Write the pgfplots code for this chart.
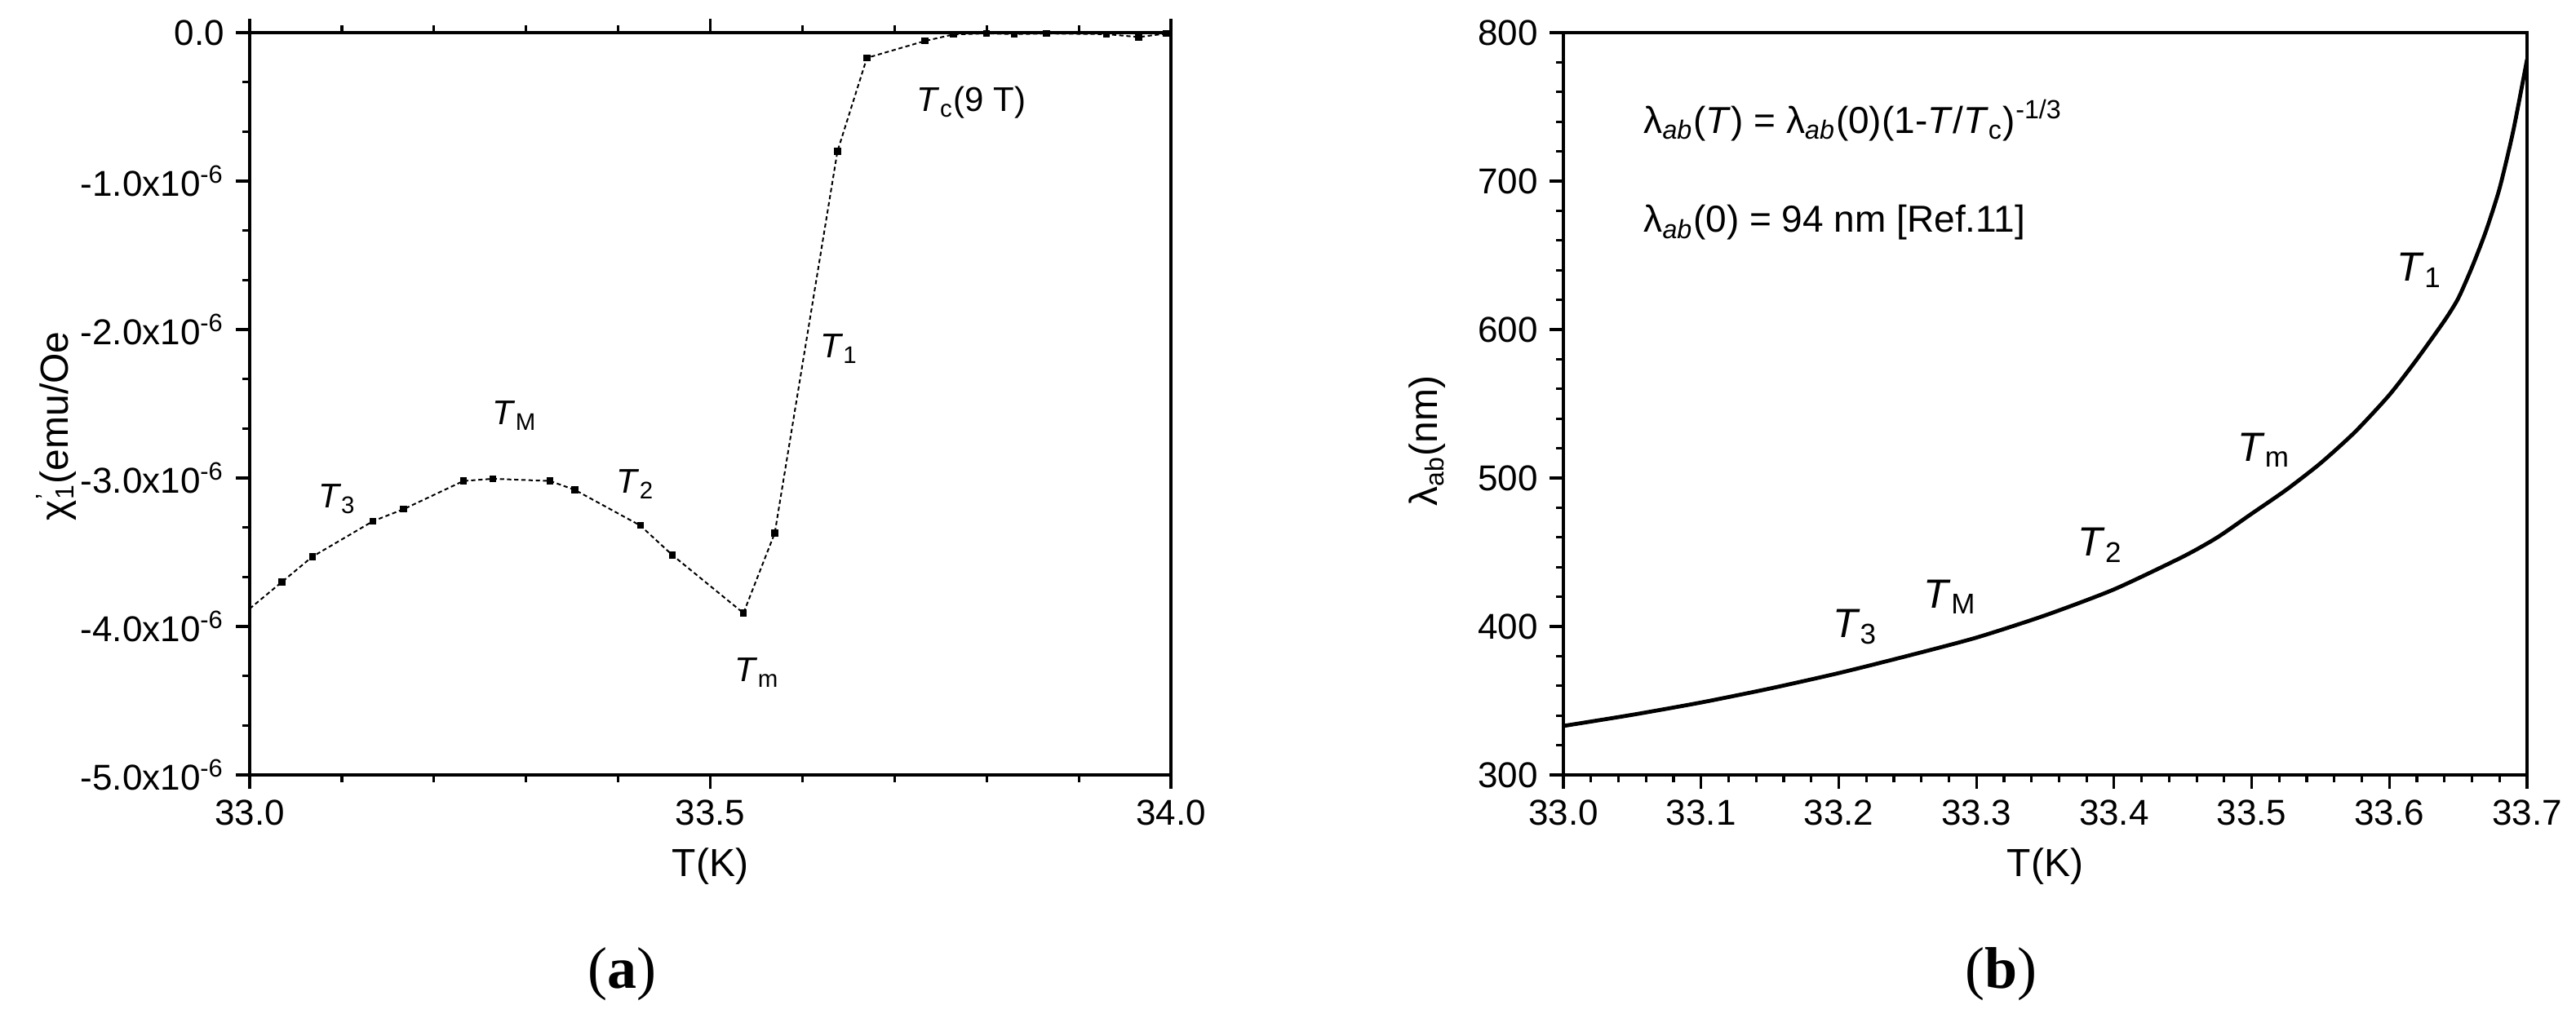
\documentclass[border=0pt]{standalone}
\usepackage{fontspec}
\setmainfont{Liberation Sans}
\newfontfamily\capfont{Liberation Serif}
\usepackage{pgfplots}
\pgfplotsset{compat=1.18}

\pgfplotsset{
  panel/.style={
    scale only axis,
    anchor=south west,
    axis line style={line width=0.9pt},
    tick align=outside,
    major tick length=4.25pt,
    minor tick length=2.25pt,
    every tick/.style={black, line width=0.8pt},
    tick label style={font=\fontsize{11}{13}\selectfont},
    label style={font=\fontsize{12}{14}\selectfont},
    clip=true,
  }
}
\newcommand{\ann}[1]{\textit{T}\textsubscript{#1}}

\begin{document}
\begin{tikzpicture}
\useasboundingbox (0,0) rectangle (789.25pt,311.75pt);

% (a) ac susceptibility
\begin{axis}[panel,
  at={(76.5pt,74.25pt)}, width=282.25pt, height=227.5pt,
  xmin=33, xmax=34, ymin=-5e-6, ymax=0,
  xtick={33,33.5,34}, xticklabels={33.0,33.5,34.0},
  minor x tick num=4,
  xtick pos=both, xticklabel pos=left,
  ytick={-5e-6,-4e-6,-3e-6,-2e-6,-1e-6,0},
  yticklabels={-5.0x10\textsuperscript{-6},-4.0x10\textsuperscript{-6},-3.0x10\textsuperscript{-6},-2.0x10\textsuperscript{-6},-1.0x10\textsuperscript{-6},0.0},
  minor y tick num=2,
  ytick pos=left, scaled y ticks=false,
  xlabel={T(K)},
  ylabel={χ\rlap{\textsuperscript{'}}\textsubscript{1}(emu/Oe},
  xlabel style={at={(axis description cs:0.5,-0.123)}, anchor=center},
  ylabel style={at={(axis description cs:-0.21,0.47)}, anchor=center},
]
\addplot[black, line width=0.5pt, dash pattern=on 1.3pt off 0.9pt,
  mark=square*, mark size=0.8pt, mark phase=2,
  mark options={solid}] table {
T chi
33.000 -3.88e-6
33.035 -3.70e-6
33.068 -3.53e-6
33.134 -3.29e-6
33.167 -3.21e-6
33.232 -3.02e-6
33.264 -3.005e-6
33.326 -3.02e-6
33.353 -3.08e-6
33.424 -3.32e-6
33.459 -3.52e-6
33.536 -3.91e-6
33.570 -3.37e-6
33.638 -0.80e-6
33.670 -0.17e-6
33.733 -0.056e-6
33.764 -0.012e-6
33.800 -0.005e-6
33.830 -0.010e-6
33.865 -0.006e-6
33.930 -0.010e-6
33.965 -0.030e-6
33.995 -0.006e-6
};
\begin{scope}[font=\fontsize{10.5}{12}\selectfont]
\node[anchor=west] at (axis cs:33.712,-0.47e-6) {\ann{c}(9 T)};
\node at (axis cs:33.640,-2.13e-6) {\ann{1}};
\node at (axis cs:33.288,-2.58e-6) {\ann{M}};
\node at (axis cs:33.419,-3.04e-6) {\ann{2}};
\node at (axis cs:33.095,-3.14e-6) {\ann{3}};
\node at (axis cs:33.551,-4.31e-6) {\ann{m}};
\end{scope}
\end{axis}

% (b) penetration depth
\begin{axis}[panel,
  at={(479pt,74.25pt)}, width=295.25pt, height=227.5pt,
  xmin=33, xmax=33.7, ymin=300, ymax=800,
  xtick={33,33.1,33.2,33.3,33.4,33.5,33.6,33.7},
  xticklabels={33.0,33.1,33.2,33.3,33.4,33.5,33.6,33.7},
  minor x tick num=4,
  ytick={300,400,500,600,700,800},
  yticklabels={300,400,500,600,700,800},
  minor y tick num=4,
  xtick pos=left, ytick pos=left,
  xlabel={T(K)},
  ylabel={λ\textsubscript{ab}(nm)},
  xlabel style={at={(axis description cs:0.5,-0.123)}, anchor=center},
  ylabel style={at={(axis description cs:-0.141,0.45)}, anchor=center},
]
\addplot[black, line width=1.2pt, smooth, tension=0.4] table {
T lambda
33.000 333
33.050 340.5
33.100 348.8
33.150 358.2
33.200 368.6
33.250 380.2
33.300 392.5
33.350 407.5
33.400 425
33.450 447
33.475 460
33.500 476
33.525 492
33.550 510
33.575 531
33.600 556
33.620 580
33.640 606
33.650 621
33.660 642
33.670 666
33.680 695
33.690 734
33.700 782
};
\node[anchor=west, font=\fontsize{11.5}{13}\selectfont] at (axis cs:33.05,741)
  {λ\textsubscript{\textit{ab}}(\textit{T}) = λ\textsubscript{\textit{ab}}(0)(1-\textit{T}/\textit{T}\textsubscript{c})\textsuperscript{-1/3}};
\node[anchor=west, font=\fontsize{11.5}{13}\selectfont] at (axis cs:33.05,672)
  {λ\textsubscript{\textit{ab}}(0) = 94 nm [Ref.11]};
\begin{scope}[font=\fontsize{12.5}{14}\selectfont]
\node at (axis cs:33.622,640) {\ann{1}};
\node at (axis cs:33.509,519) {\ann{m}};
\node at (axis cs:33.390,455) {\ann{2}};
\node at (axis cs:33.281,420) {\ann{M}};
\node at (axis cs:33.212,400) {\ann{3}};
\end{scope}
\end{axis}

\node[font=\capfont\fontsize{18}{20}\selectfont] at (190.5pt,13.25pt) {(\textbf{a})};
\node[font=\capfont\fontsize{18}{20}\selectfont] at (613pt,13.25pt) {(\textbf{b})};
\end{tikzpicture}
\end{document}
